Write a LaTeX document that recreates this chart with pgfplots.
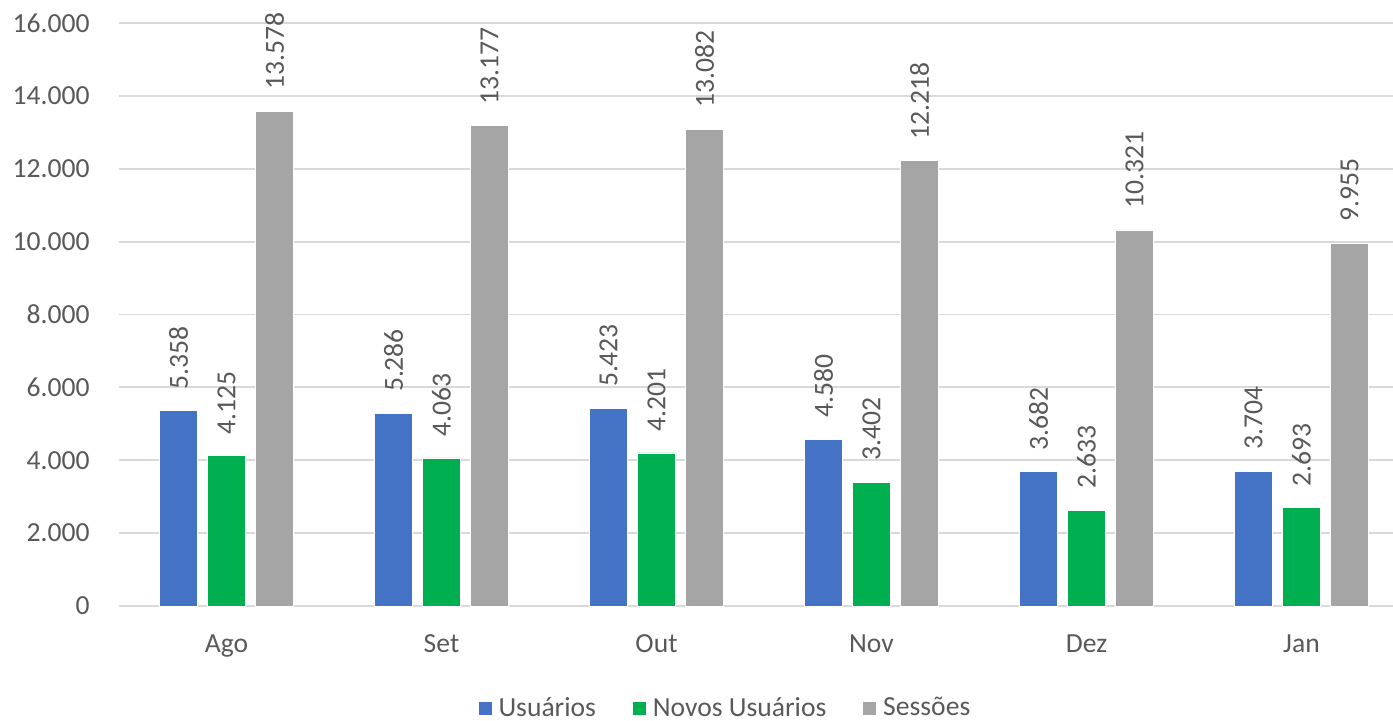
\documentclass[border=0pt]{standalone}
\usepackage{pgfplots}
\pgfplotsset{compat=1.18}
\usepackage{fontspec}
\setmainfont{Carlito}
\definecolor{cblue}{HTML}{4472C4}
\definecolor{cgreen}{HTML}{00B050}
\definecolor{cgray}{HTML}{A5A5A5}
\definecolor{ctext}{HTML}{595959}
\definecolor{cgrid}{HTML}{D9D9D9}
\begin{document}
\begin{tikzpicture}[x=1pt,y=1pt,font=\fontsize{13.8}{16}\selectfont]
\begin{axis}[
  at={(0,0)}, anchor=south west,
  scale only axis, width=637pt, height=291.5pt,
  xmin=-0.5, xmax=5.4256, ymin=0, ymax=16000,
  clip=false,
  ybar=5pt, bar width=19pt,
  axis line style={draw=none},
  major tick length=0pt,
  xtick={0,1,2,3,4,5},
  xticklabels={Ago,Set,Out,Nov,Dez,Jan},
  ytick={0,2000,4000,6000,8000,10000,12000,14000,16000},
  scaled y ticks=false,
  /pgf/number format/assume math mode=true,
  /pgf/number format/.cd, fixed, precision=0, 1000 sep={.},
  /pgfplots/.cd,
  ymajorgrids, grid style={cgrid, line width=0.9pt},
  yticklabel style={text=ctext, anchor=east, inner sep=0pt, xshift=-14.5pt},
  xticklabel style={text=ctext, anchor=north, inner sep=0pt, yshift=-14pt},
  nodes near coords={\pgfmathprintnumber[fixed,precision=0,1000 sep={.},assume math mode=true]{\pgfplotspointmeta}},
  every node near coord/.append style={rotate=90, anchor=west, inner xsep=10.5pt, inner ysep=0pt, text=ctext},
  legend style={at={(0.4749,-0.175)}, anchor=center, draw=none, fill=none,
    legend columns=-1, text=ctext,
    nodes={inner sep=0pt, anchor=west},
    /tikz/every odd column/.style={column sep=3pt},
    /tikz/every even column/.style={column sep=18pt}},
  legend image code/.code={\fill[#1] (0pt,-3.5pt) rectangle (7pt,3.5pt);},
]
\addplot[fill=cblue, draw=white, line width=0.4pt] coordinates {(0,5358) (1,5286) (2,5423) (3,4580) (4,3682) (5,3704)};
\addplot[fill=cgreen, draw=white, line width=0.4pt] coordinates {(0,4125) (1,4063) (2,4201) (3,3402) (4,2633) (5,2693)};
\addplot[fill=cgray, draw=white, line width=0.4pt] coordinates {(0,13578) (1,13177) (2,13082) (3,12218) (4,10321) (5,9955)};
\legend{Usuários, Novos Usuários, Sessões}
\end{axis}
\pgfresetboundingbox
\path[use as bounding box] (-59.5,-57.5) rectangle (637,303);
\end{tikzpicture}
\end{document}
